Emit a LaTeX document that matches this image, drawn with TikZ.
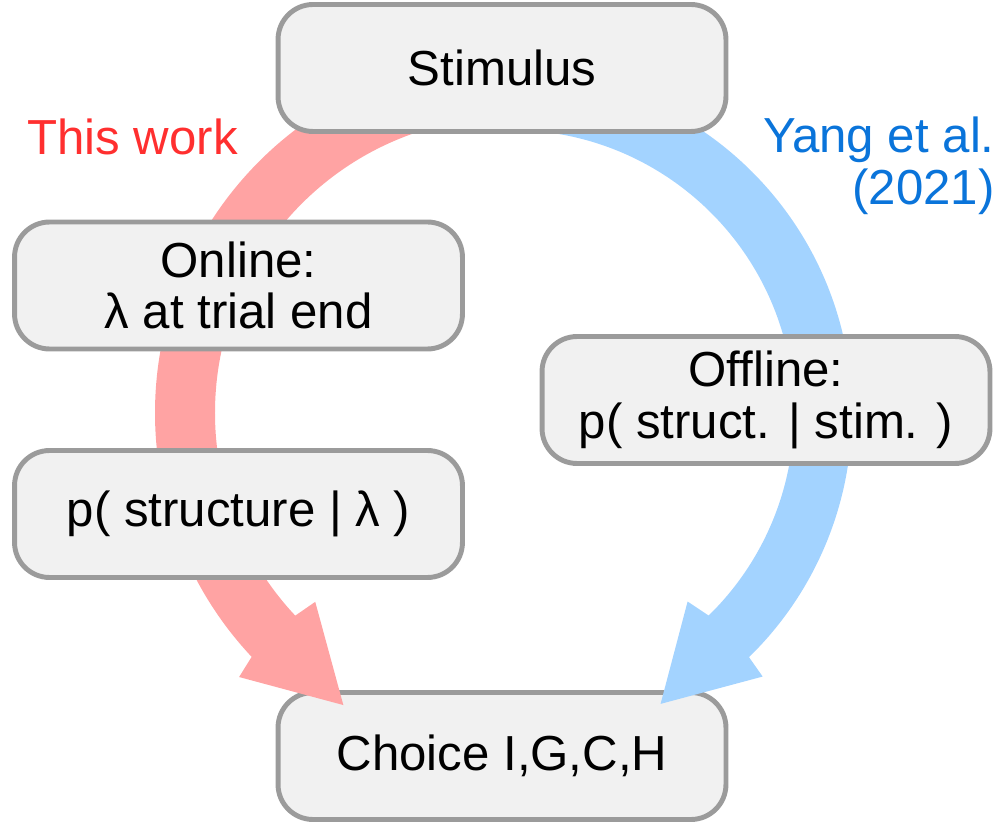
\documentclass[tikz,border=0pt]{standalone}
\usepackage{fontspec}
\setmainfont{Liberation Sans}
\usetikzlibrary{calc}
\definecolor{BoxFill}{HTML}{F1F1F1}
\definecolor{BoxEdge}{HTML}{9B9B9B}
\definecolor{RedBand}{HTML}{FFA3A3}
\definecolor{BlueBand}{HTML}{A3D3FF}
\definecolor{WorkRed}{HTML}{FF2F2F}
\definecolor{YangBlue}{HTML}{0A74DA}

\begin{document}
\begin{tikzpicture}[x=0.02cm,y=0.02cm,font=\fontsize{28}{29.5}\selectfont,
  box/.style={draw=BoxEdge,fill=BoxFill,line width=2.8pt,rounded corners=0.7cm,
    minimum width=8.96cm,minimum height=2.54cm,align=center,inner sep=0pt},
  redband/.style={RedBand,line width=1.2cm},
  blueband/.style={BlueBand,line width=1.16cm}]
\useasboundingbox (0,0) rectangle (1004,-827);
\coordinate (hub) at (511,-413);
% bands under the boxes
\draw[redband] ($(hub)+(90:326)$) arc[start angle=90,end angle=223.4,radius=326] coordinate (rneck);
\draw[blueband] ($(hub)+(90:312)$) arc[start angle=90,end angle=-45.9,radius=312] coordinate (bneck);
% boxes
\node[box] (stim) at (502,-68) {Stimulus};
\node[box] (online) at (238.5,-285.5) {Online:\\λ at trial end};
\node[box] (pstruct) at (238.5,-514) {p( structure | λ )};
\node[box] (offline) at (766,-400) {Offline:\\p( struct. | stim. )};
\node[box] (choice) at (502,-756) {Choice I,G,C,H};
% heads over the choice box
\fill[RedBand,shift={(rneck)},rotate=-46.6] (-1,30)--(2.7,54)--(97,3.5)--(5,-53)--(-1,-30)--cycle;
\fill[BlueBand,shift={(bneck)},rotate=-135.9] (-1,-29)--(4.4,-53.7)--(95,1)--(2.7,52.4)--(-1,29)--cycle;
% labels
\node[WorkRed,anchor=base west,inner sep=0pt] (thiswork) at (27,-155) {This work};
\node[YangBlue,anchor=north east,align=right,inner sep=0pt] (yang) at (995,-117) {Yang et al.\\(2021)};
\end{tikzpicture}
\end{document}
